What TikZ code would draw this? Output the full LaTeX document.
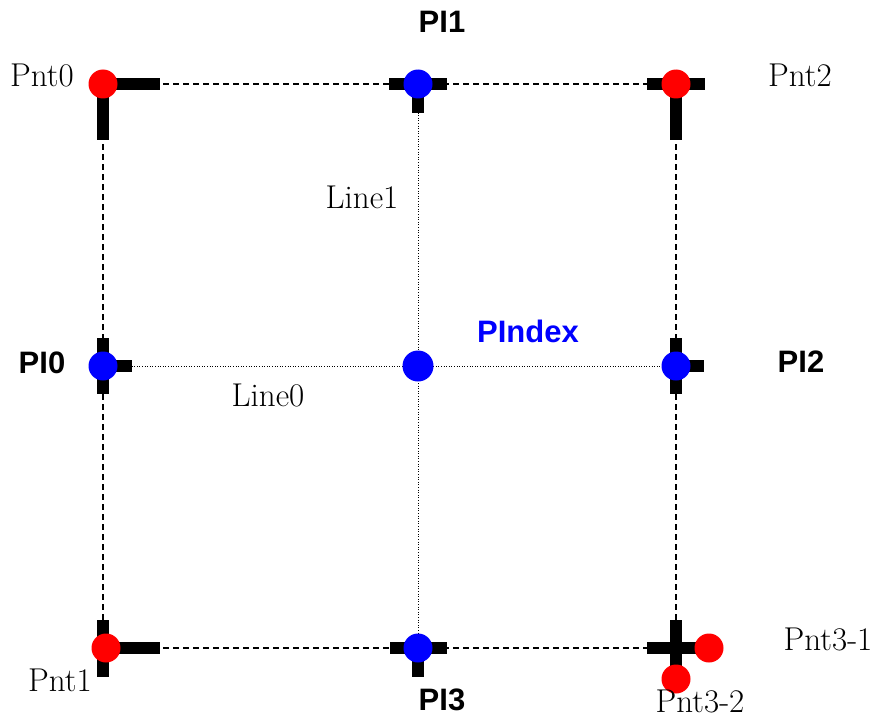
\documentclass[tikz,border=0pt]{standalone}
\usepackage{fontspec}
\newfontfamily\labsans{Liberation Sans}
\begin{document}
\begin{tikzpicture}[x=1pt,y=-1pt,
  dashln/.style={line width=1.6pt,dash pattern=on 6pt off 4pt},
  dotln/.style={line width=1pt,dash pattern=on 1pt off 1.6pt},
  bar/.style={line width=12pt,line cap=butt},
  redpt/.style={circle,fill=red,minimum size=29pt,inner sep=0pt},
  bluept/.style={circle,fill=blue,minimum size=29pt,inner sep=0pt},
  serlab/.style={inner sep=0pt,font=\fontsize{33}{38}\selectfont},
  sanlab/.style={inner sep=0pt,font=\labsans\bfseries\fontsize{31}{36}\selectfont}]
\useasboundingbox (0,0) rectangle (876,717);
% grid positions
\coordinate (c0) at (103,84);
\coordinate (c1) at (418,84);
\coordinate (c2) at (676,84);
\coordinate (m0) at (103,366);
\coordinate (mi) at (418,366);
\coordinate (m2) at (676,366);
\coordinate (b0) at (103,648);
\coordinate (b1) at (418,648);
\coordinate (b2) at (676,648);
% lines
\draw[dashln] (c0) -- (c2);
\draw[dashln] (b0) -- (b2);
\draw[dashln] (c0) -- (b0);
\draw[dashln] (c2) -- (b2);
\draw[dotln] (m0) -- (m2);
\draw[dotln] (c1) -- (b1);
% bars
\draw[bar] (c0) -- ++(57,0);
\draw[bar] (c0) -- ++(0,56);
\draw[bar] (c1) ++(-29,0) -- ++(58,0);
\draw[bar] (c1) -- ++(0,29);
\draw[bar] (c2) ++(-29,0) -- ++(58,0);
\draw[bar] (c2) -- ++(0,56);
\draw[bar] (m0) ++(0,-28) -- ++(0,56);
\draw[bar] (m0) -- ++(29,0);
\draw[bar] (m2) ++(0,-28) -- ++(0,56);
\draw[bar] (m2) -- ++(28,0);
\draw[bar] (b0) ++(0,-28) -- ++(0,57);
\draw[bar] (b0) -- ++(57,0);
\draw[bar] (b1) ++(-28,0) -- ++(57,0);
\draw[bar] (b1) -- ++(0,29);
\draw[bar] (b2) ++(-29,0) -- ++(57,0);
\draw[bar] (b2) ++(0,-28) -- ++(0,57);
% points
\node[redpt] (pnt0) at (c0) {};
\node[bluept] (pl1) at (c1) {};
\node[redpt] (pnt2) at (c2) {};
\node[bluept] (pl0) at (m0) {};
\node[bluept,minimum size=31pt] (pindex) at (mi) {};
\node[bluept] (pl2) at (m2) {};
\node[redpt] (pnt1) at (106,648) {};
\node[bluept] (pl3) at (b1) {};
\node[redpt] (pnt31) at (709,648) {};
\node[redpt] (pnt32) at (676,679) {};
% labels
\node[sanlab] (tpl1) at (442,22) {PI1};
\node[sanlab] (tpl0) at (42,363) {PI0};
\node[sanlab] (tpl2) at (801,362) {PI2};
\node[sanlab] (tpl3) at (442,700) {PI3};
\node[sanlab,text=blue] (tpindex) at (528,331) {PIndex};
\node[serlab] (tpnt0) at (42,75) {Pnt0};
\node[serlab] (tpnt2) at (800,75) {Pnt2};
\node[serlab] (tpnt1) at (60,680) {Pnt1};
\node[serlab] (tpnt31) at (828,639) {Pnt3-1};
\node[serlab] (tpnt32) at (700,701) {Pnt3-2};
\node[serlab] (tline1) at (362,197) {Line1};
\node[serlab] (tline0) at (268,395) {Line0};
\end{tikzpicture}
\end{document}
